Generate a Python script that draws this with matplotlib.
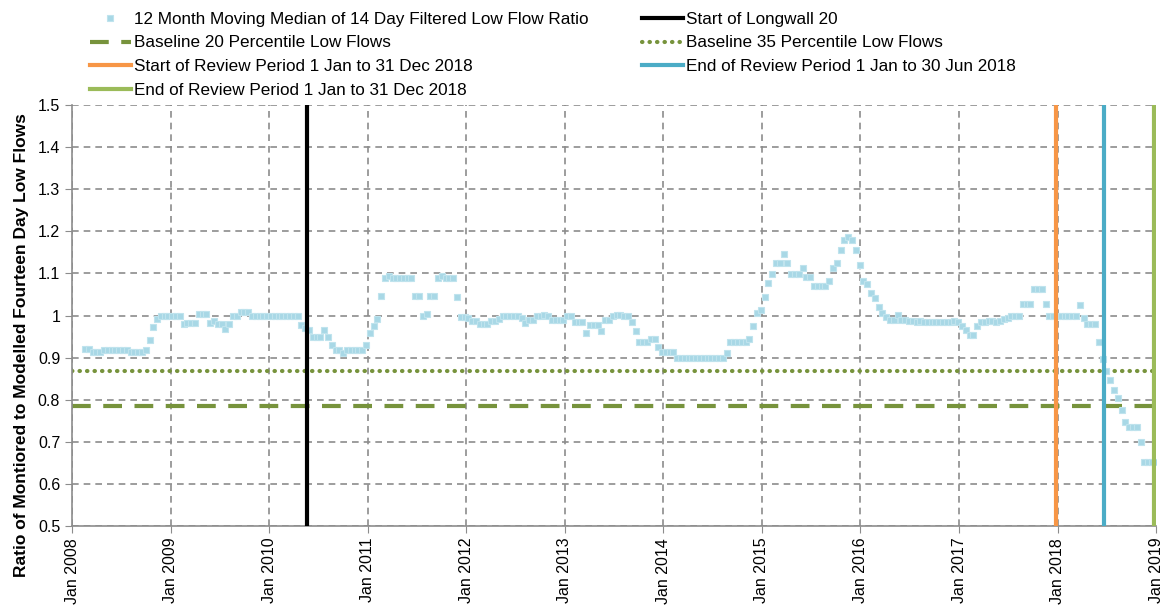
import numpy as np
import pandas as pd
import matplotlib
matplotlib.use('Agg')
import matplotlib.pyplot as plt
import matplotlib.dates as mdates

plt.rcParams['font.family'] = ['Liberation Sans', 'DejaVu Sans']

# 12 month moving median, roughly fortnightly values
ratio_2008 = [0.92, 0.92, 0.914, 0.914, 0.914, 0.918, 0.918, 0.918, 0.918, 0.918,
              0.918, 0.918, 0.914, 0.914, 0.914, 0.914, 0.918, 0.942, 0.973, 0.991,
              1.0, 1.0, 1.0]
ratio_2009 = [1.0, 1.0, 1.0, 0.979, 0.983, 0.983, 0.983, 1.003, 1.003, 1.003,
              0.983, 0.987, 0.979, 0.979, 0.967, 0.979, 0.998, 0.998, 1.009, 1.009,
              1.009, 0.998, 0.998, 0.998, 0.998, 0.998]
ratio_2010 = [1.0, 1.0, 1.0, 1.0, 1.0, 1.0, 1.0, 1.0, 0.978, 0.971,
              0.966, 0.948, 0.948, 0.948, 0.966, 0.948, 0.929, 0.917, 0.917, 0.912,
              0.917, 0.917, 0.917, 0.917, 0.917, 0.930]
ratio_2011 = [0.958, 0.975, 0.992, 1.047, 1.09, 1.093, 1.09, 1.09, 1.09, 1.09,
              1.09, 1.09, 1.047, 1.047, 1.0, 1.003, 1.047, 1.047, 1.09, 1.093,
              1.09, 1.09, 1.09, 1.043, 0.997]
ratio_2012 = [0.996, 0.994, 0.986, 0.986, 0.98, 0.98, 0.98, 0.986, 0.986, 0.992,
              0.998, 1.0, 1.0, 1.0, 1.0, 0.995, 0.983, 0.99, 0.99, 1.0,
              1.0, 1.002, 1.0, 0.989, 0.989, 0.989, 0.989]
ratio_2013 = [1.0, 1.0, 0.984, 0.984, 0.984, 0.959, 0.977, 0.977, 0.977, 0.964,
              0.989, 0.989, 0.998, 1.002, 1.002, 1.0, 0.998, 0.985, 0.964, 0.936,
              0.936, 0.936, 0.943, 0.943, 0.926]
ratio_2014 = [0.914, 0.914, 0.914, 0.914, 0.9, 0.9, 0.9, 0.9, 0.9, 0.9,
              0.9, 0.9, 0.9, 0.9, 0.9, 0.9, 0.9, 0.912, 0.938, 0.938,
              0.938, 0.938, 0.938, 0.944, 0.974, 1.006]
ratio_2015 = [1.012, 1.044, 1.077, 1.098, 1.124, 1.124, 1.146, 1.124, 1.098, 1.098,
              1.098, 1.112, 1.092, 1.092, 1.069, 1.069, 1.069, 1.069, 1.083, 1.112,
              1.125, 1.156, 1.179, 1.187, 1.179, 1.156]
ratio_2016 = [1.121, 1.083, 1.074, 1.053, 1.041, 1.021, 1.006, 0.996, 0.99, 0.99,
              1.002, 0.99, 0.99, 0.986, 0.986, 0.984, 0.987, 0.984, 0.984, 0.984,
              0.984, 0.984, 0.984, 0.984, 0.984, 0.988]
ratio_2017 = [0.984, 0.976, 0.966, 0.954, 0.954, 0.976, 0.984, 0.984, 0.987, 0.987,
              0.984, 0.987, 0.991, 0.995, 0.998, 1.0, 1.0, 1.028, 1.028, 1.028,
              1.063, 1.063, 1.063, 1.028, 1.0, 1.0]
ratio_2018 = [1.0, 1.0, 1.0, 1.0, 1.0, 0.998, 1.024, 0.995, 0.98, 0.98,
              0.98, 0.937, 0.897, 0.868, 0.846, 0.824, 0.803, 0.776, 0.747, 0.735,
              0.735, 0.735, 0.7, 0.653, 0.653, 0.653, 0.653]

ratio = (ratio_2008 + ratio_2009 + ratio_2010 + ratio_2011 + ratio_2012 + ratio_2013
         + ratio_2014 + ratio_2015 + ratio_2016 + ratio_2017 + ratio_2018)
first_date = '2008-02-18'
last_date = '2018-12-31'

baseline_20 = 0.786
baseline_35 = 0.868

longwall_start = '2010-05-20'
review_start = '2017-12-28'
review_end_jun = '2018-06-21'
review_end_dec = '2018-12-25'

x_start = '2008-01-01'
x_end = '2019-01-01'

dates = pd.date_range(first_date, last_date, periods=len(ratio))

fig = plt.figure(figsize=(11.66, 6.07), dpi=100)
ax = fig.add_axes([72 / 1166, 1 - 526 / 607, (1156 - 72) / 1166, (526 - 105) / 607])

grid_kw = dict(color='#8c8c8c', linewidth=1.2, dashes=(4, 3))
ax.grid(True, **grid_kw)
ax.set_axisbelow(True)

series, = ax.plot(dates, ratio, linestyle='none', marker='s', markersize=4.8,
                  markerfacecolor='#a8d8e6', markeredgecolor='#bfe3ed', markeredgewidth=0.8,
                  label='12 Month Moving Median of 14 Day Filtered Low Flow Ratio', zorder=3)

b20 = ax.axhline(baseline_20, color='#77933c', linewidth=3, dashes=(4.5, 3),
                 label='Baseline 20 Percentile Low Flows', zorder=2)
b35 = ax.axhline(baseline_35, color='#77933c', linewidth=3, dashes=(0.1, 1.7),
                 dash_capstyle='round', label='Baseline 35 Percentile Low Flows', zorder=2)

lw = ax.axvline(pd.Timestamp(longwall_start), color='black', linewidth=3,
                label='Start of Longwall 20', zorder=4)
rs = ax.axvline(pd.Timestamp(review_start), color='#f79646', linewidth=3,
                label='Start of Review Period 1 Jan to 31 Dec 2018', zorder=4)
rj = ax.axvline(pd.Timestamp(review_end_jun), color='#4bacc6', linewidth=3,
                label='End of Review Period 1 Jan to 30 Jun 2018', zorder=4)
rd = ax.axvline(pd.Timestamp(review_end_dec), color='#9bbb59', linewidth=3,
                label='End of Review Period 1 Jan to 31 Dec 2018', zorder=4)

ax.set_xlim(pd.Timestamp(x_start), pd.Timestamp(x_end))
ax.set_ylim(0.5, 1.5)
ax.set_yticks(np.arange(0.5, 1.51, 0.1))
ax.set_yticklabels(['%g' % round(v, 1) for v in np.arange(0.5, 1.51, 0.1)], fontsize=11.5)
ax.xaxis.set_major_locator(mdates.YearLocator())
ax.xaxis.set_major_formatter(mdates.DateFormatter('%b %Y'))
plt.setp(ax.get_xticklabels(), rotation=90, fontsize=11.5)
ax.tick_params(axis='both', direction='out', length=5, color='#8c8c8c')

for side in ['top', 'right']:
    ax.spines[side].set_visible(False)
for side in ['left', 'bottom']:
    ax.spines[side].set_color('#8c8c8c')
    ax.spines[side].set_linewidth(1.2)

ax.set_ylabel('Ratio of Montiored to Modelled Fourteen Day Low Flows',
              fontsize=12.5, fontweight='bold')
ax.yaxis.set_label_coords(-0.04, 0.43)

handles = [series, b20, rs, rd, lw, b35, rj]
fig.legend(handles, [h.get_label() for h in handles], ncol=2, loc='upper left',
           bbox_to_anchor=(78 / 1166, 1.0), frameon=False, fontsize=12.3,
           handlelength=2.4, handletextpad=0.2, labelspacing=0.5, columnspacing=3.1,
           borderaxespad=0.3)

fig.savefig('out.png', dpi=100)
